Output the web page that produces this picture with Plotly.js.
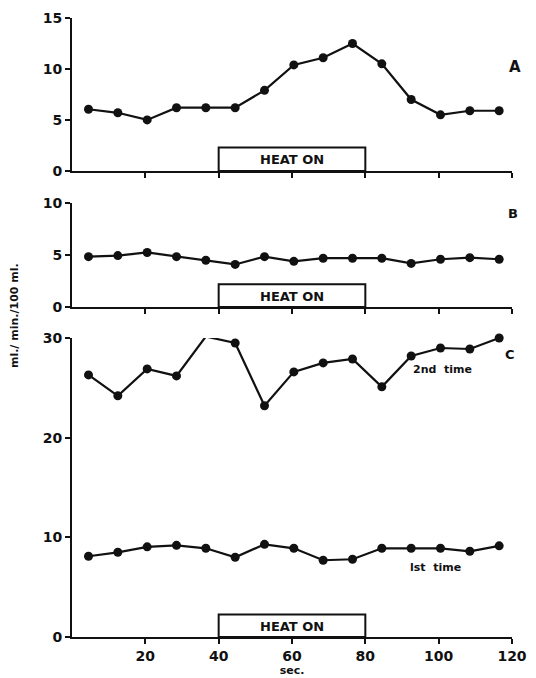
<!DOCTYPE html>
<html><head><meta charset="utf-8">
<script src="https://cdn.plot.ly/plotly-3.0.1.min.js"></script>
<style>html,body{margin:0;padding:0;background:#fff}</style>
</head><body><div id="chart" style="width:536px;height:678px"></div>
<script>
const timeSec = [4.5, 12.5, 20.5, 28.5, 36.5, 44.5, 52.5, 60.5, 68.5, 76.5, 84.5, 92.5, 100.5, 108.5, 116.5];
const panelA = [6.05, 5.7, 5.0, 6.2, 6.2, 6.2, 7.9, 10.4, 11.1, 12.5, 10.5, 7.0, 5.5, 5.9, 5.9];
const panelB = [4.85, 4.95, 5.25, 4.85, 4.5, 4.1, 4.85, 4.4, 4.7, 4.7, 4.7, 4.2, 4.6, 4.75, 4.6];
const panelC2nd = [26.3, 24.2, 26.9, 26.2, 30.15, 29.5, 23.2, 26.6, 27.5, 27.9, 25.1, 28.2, 29.0, 28.9, 30.0];
const panelC1st = [8.1, 8.5, 9.05, 9.2, 8.9, 8.0, 9.3, 8.9, 7.7, 7.8, 8.9, 8.9, 8.9, 8.6, 9.15];
const heatStart = 40, heatEnd = 80;
const xTicks = [20, 40, 60, 80, 100, 120];

const FONT = 'DejaVu Sans, Liberation Sans, sans-serif';
const line = {color: '#111', width: 2.2};
const marker = {color: '#111', size: 9, symbol: 'circle'};
function tr(y, xa, ya) {
  return {x: timeSec, y: y, xaxis: xa, yaxis: ya, mode: 'lines+markers', line: line, marker: marker,
    cliponaxis: false, hoverinfo: 'skip', showlegend: false};
}
const data = [
  tr(panelA, 'x3', 'y3'),
  tr(panelB, 'x2', 'y2'),
  tr(panelC2nd, 'x', 'y'),
  tr(panelC1st, 'x', 'y')
];
const axBase = {showgrid: false, zeroline: false, showline: true, linecolor: '#111', linewidth: 2,
  ticks: 'outside', ticklen: 5, tickwidth: 2, tickcolor: '#111',
  tickfont: {family: FONT, size: 14, color: '#111', weight: 'bold'}};
function xa(anchor, labels) {
  return Object.assign({}, axBase, {range: [0, 120], domain: [0, 1], anchor: anchor,
    tickvals: xTicks, showticklabels: labels, fixedrange: true});
}
function ya(range, dom, tv) {
  return Object.assign({}, axBase, {range: range, domain: dom, tickvals: tv, fixedrange: true});
}
function heatBox(xr, yr, top) {
  return {type: 'rect', xref: xr, yref: yr, x0: heatStart, x1: heatEnd, y0: 0, y1: top,
    line: {color: '#111', width: 2}, fillcolor: 'rgba(0,0,0,0)'};
}
function heatText(xr, yr, ymid) {
  return {xref: xr, yref: yr, x: (heatStart + heatEnd) / 2, y: ymid, text: 'HEAT ON', showarrow: false,
    font: {family: FONT, size: 13, color: '#111', weight: 'bold'}};
}
const layout = {
  width: 536, height: 678,
  margin: {l: 72, r: 24, t: 18, b: 41},
  paper_bgcolor: '#fff', plot_bgcolor: '#fff',
  showlegend: false,
  xaxis: Object.assign(xa('y', true), {title: {text: 'sec.', font: {family: FONT, size: 11, color: '#111', weight: 'bold'}, standoff: 3}}),
  yaxis: ya([0, 30], [0, 0.483], [0, 10, 20, 30]),
  xaxis2: xa('y2', false),
  yaxis2: ya([0, 10], [0.533, 0.701], [0, 5, 10]),
  xaxis3: xa('y3', false),
  yaxis3: ya([0, 15], [0.753, 1], [0, 5, 10, 15]),
  shapes: [heatBox('x3', 'y3', 2.3), heatBox('x2', 'y2', 2.2), heatBox('x', 'y', 2.25)],
  annotations: [
    heatText('x3', 'y3', 1.1), heatText('x2', 'y2', 1.05), heatText('x', 'y', 1.1),
    {xref: 'paper', yref: 'y3', x: 1.007, y: 10.2, text: 'A', showarrow: false, xanchor: 'center',
      font: {family: FONT, size: 15, color: '#111', weight: 'bold'}},
    {xref: 'paper', yref: 'y2', x: 1.002, y: 9.0, text: 'B', showarrow: false, xanchor: 'center',
      font: {family: FONT, size: 13, color: '#111', weight: 'bold'}},
    {xref: 'paper', yref: 'y', x: 0.995, y: 28.3, text: 'C', showarrow: false, xanchor: 'center',
      font: {family: FONT, size: 13, color: '#111', weight: 'bold'}},
    {xref: 'x', yref: 'y', x: 101, y: 26.8, text: '2nd  time', showarrow: false,
      font: {family: FONT, size: 11, color: '#111', weight: 'bold'}},
    {xref: 'x', yref: 'y', x: 99, y: 7.0, text: 'lst  time', showarrow: false,
      font: {family: FONT, size: 11, color: '#111', weight: 'bold'}},
    {xref: 'paper', yref: 'paper', x: -0.132, y: 0.52, text: 'ml./ min./100 ml.', showarrow: false,
      textangle: -90, xanchor: 'center', yanchor: 'middle',
      font: {family: FONT, size: 11, color: '#111', weight: 'bold'}}
  ]
};
Plotly.newPlot('chart', data, layout, {staticPlot: true, displayModeBar: false});
</script></body></html>
